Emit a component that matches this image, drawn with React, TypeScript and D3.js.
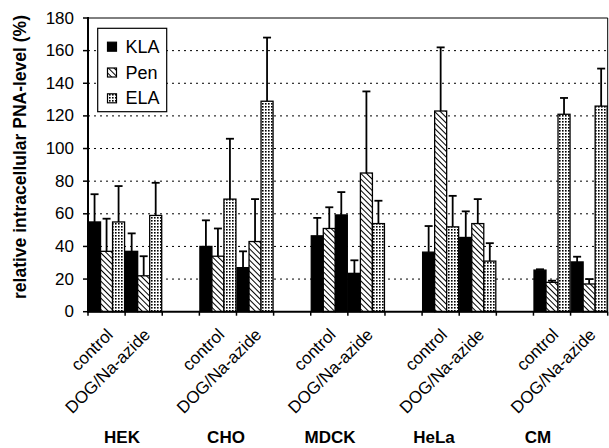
import React from "react";
import * as d3 from "d3";

const categories = [
  "HEK|control", "HEK|DOG", "gap1",
  "CHO|control", "CHO|DOG", "gap2",
  "MDCK|control", "MDCK|DOG", "gap3",
  "HeLa|control", "HeLa|DOG", "gap4",
  "CM|control", "CM|DOG",
];
const groups = ["HEK", "CHO", "MDCK", "HeLa", "CM"];
const conditionLabels: Record<string, string> = { control: "control", DOG: "DOG/Na-azide" };
const seriesNames = ["KLA", "Pen", "ELA"];

// values in order: HEK ctrl, HEK DOG, CHO ctrl, CHO DOG, MDCK ctrl, MDCK DOG, HeLa ctrl, HeLa DOG, CM ctrl, CM DOG
const barCats = [
  "HEK|control", "HEK|DOG", "CHO|control", "CHO|DOG", "MDCK|control",
  "MDCK|DOG", "HeLa|control", "HeLa|DOG", "CM|control", "CM|DOG",
];
const klaValues = [55, 37, 40, 27, 46.5, 23.5, 36.5, 45.5, 25.5, 30.5];
const klaErrors = [17, 11, 16, 10, 11, 8, 16, 16, 0.5, 3.2];
const penValues = [37, 22, 34, 43, 51, 85, 123, 54, 18, 17];
const penErrors = [20, 12, 17, 26, 13, 50, 39, 15, 1, 3];
const elaValues = [55, 59, 69, 129, 59.3, 54, 52, 31, 121, 126];
const elaErrors = [22, 20, 37, 39, 14, 14, 19, 11, 10, 23];
// bar that appears solid black in the original figure
const solidBars = ["MDCK|control|ELA"];

const yTicks = [0, 20, 40, 60, 80, 100, 120, 140, 160, 180];

const W = 609, H = 448;
const M = { left: 88, right: 1.3, top: 18, bottom: 136.3 };
const FONT = "Arial, 'Liberation Sans', Helvetica, sans-serif";

export default function App() {
  const x = d3.scaleBand().domain(categories).range([M.left, W - M.right]).padding(0);
  const y = d3.scaleLinear().domain([0, 180]).range([H - M.bottom, M.top]);
  const inner = d3.scaleBand().domain(seriesNames).range([0, x.bandwidth()]).paddingInner(0).paddingOuter(0.045);
  const groupX = d3.scaleLinear().domain([0, groups.length - 1]).range([122, 538]);

  const seriesData: Record<string, { v: number[]; e: number[]; fill: string }> = {
    KLA: { v: klaValues, e: klaErrors, fill: "#000" },
    Pen: { v: penValues, e: penErrors, fill: "url(#hatch)" },
    ELA: { v: elaValues, e: elaErrors, fill: "url(#dots)" },
  };

  const bars: any[] = [];
  seriesNames.forEach((s) => {
    barCats.forEach((c, i) => {
      bars.push({ cat: c, s, v: seriesData[s].v[i], e: seriesData[s].e[i] });
    });
  });

  const x0 = M.left, x1 = W - M.right, y0 = y(0), yTop = M.top;

  return (
    <svg width={W} height={H} style={{ position: "absolute", left: 0, top: 0, background: "#fff" }} fontFamily={FONT}>
      <defs>
        <pattern id="hatch" width="4" height="4" patternUnits="userSpaceOnUse" patternTransform="rotate(-45)">
          <rect width="4" height="4" fill="#fff" />
          <line x1="0" y1="0" x2="0" y2="4" stroke="#000" strokeWidth="2" />
        </pattern>
        <pattern id="dots" width="3" height="3" patternUnits="userSpaceOnUse">
          <rect width="3" height="3" fill="#fff" />
          <rect x="1" y="1" width="1.6" height="1.6" fill="#000" />
        </pattern>
      </defs>
      <rect x={0} y={0} width={W} height={H} fill="#fff" />
      {/* gridlines */}
      {yTicks.filter((t) => t > 0 && t < 180).map((t) => (
        <line key={t} x1={x0} x2={x1} y1={y(t)} y2={y(t)} stroke="#000" strokeWidth={1} strokeDasharray="2 4" />
      ))}
      {/* frame top/right */}
      <line x1={x0} x2={x1} y1={yTop} y2={yTop} stroke="#000" strokeWidth={1} />
      <line x1={x1} x2={x1} y1={yTop} y2={y0} stroke="#000" strokeWidth={1} />
      {/* bars */}
      {bars.map((b, i) => {
        const bx = (x(b.cat) as number) + (inner(b.s) as number);
        const bw = inner.bandwidth();
        const fill = solidBars.includes(`${b.cat}|${b.s}`) ? "#000" : seriesData[b.s].fill;
        return (
          <rect key={i} x={bx} y={y(b.v)} width={bw} height={y0 - y(b.v)} fill={fill} stroke="#000" strokeWidth={1.3} />
        );
      })}
      {/* error bars */}
      {bars.map((b, i) => {
        const cx = (x(b.cat) as number) + (inner(b.s) as number) + inner.bandwidth() / 2;
        const top = y(b.v + b.e);
        return (
          <g key={"e" + i} stroke="#000" strokeWidth={1.8}>
            <line x1={cx} x2={cx} y1={y(b.v)} y2={top} />
            <line x1={cx - 4} x2={cx + 4} y1={top} y2={top} />
          </g>
        );
      })}
      {/* axes */}
      <line x1={x0} x2={x0} y1={yTop - 1} y2={y0 + 1} stroke="#000" strokeWidth={2} />
      <line x1={x0} x2={x1} y1={y0} y2={y0} stroke="#000" strokeWidth={2} />
      {yTicks.map((t) => (
        <g key={"yt" + t}>
          <line x1={x0 - 5} x2={x0} y1={y(t)} y2={y(t)} stroke="#000" strokeWidth={1.5} />
          <text x={74} y={y(t)} textAnchor="end" dominantBaseline="central" fontSize={17} fill="#000">{t}</text>
        </g>
      ))}
      {categories.concat(["end"]).map((c, i) => {
        const tx = i < categories.length ? (x(c) as number) : x1;
        return <line key={"xt" + i} x1={tx} x2={tx} y1={y0} y2={y0 + 4} stroke="#000" strokeWidth={1.5} />;
      })}
      {/* category labels */}
      {barCats.map((c) => {
        const cx = (x(c) as number) + x.bandwidth() / 2 + 7.5;
        const cy = y0 + 24;
        const cond = c.split("|")[1];
        return (
          <text key={"xl" + c} x={cx} y={cy} textAnchor="end" fontSize={17} fill="#000" transform={`rotate(-45 ${cx} ${cy})`}>
            {conditionLabels[cond]}
          </text>
        );
      })}
      {groups.map((g, i) => (
        <text key={g} x={groupX(i)} y={443} textAnchor="middle" fontSize={17} fontWeight="bold" fill="#000">{g}</text>
      ))}
      {/* y title */}
      <text transform={`translate(26 157) rotate(-90)`} textAnchor="middle" fontSize={17.5} fontWeight="bold" fill="#000">
        relative intracellular PNA-level (%)
      </text>
      {/* legend */}
      <g>
        <rect x={97.7} y={28.3} width={69} height={83.4} fill="#fff" stroke="#000" strokeWidth={1.2} />
        {seriesNames.map((s, i) => {
          const ly = 46.7 + i * 25.8;
          return (
            <g key={s}>
              <rect x={107.5} y={ly - 4.5} width={9} height={9} fill={seriesData[s].fill} stroke="#000" strokeWidth={1.2} />
              <text x={125.5} y={ly} dominantBaseline="central" fontSize={18} fill="#000">{s}</text>
            </g>
          );
        })}
      </g>
    </svg>
  );
}
